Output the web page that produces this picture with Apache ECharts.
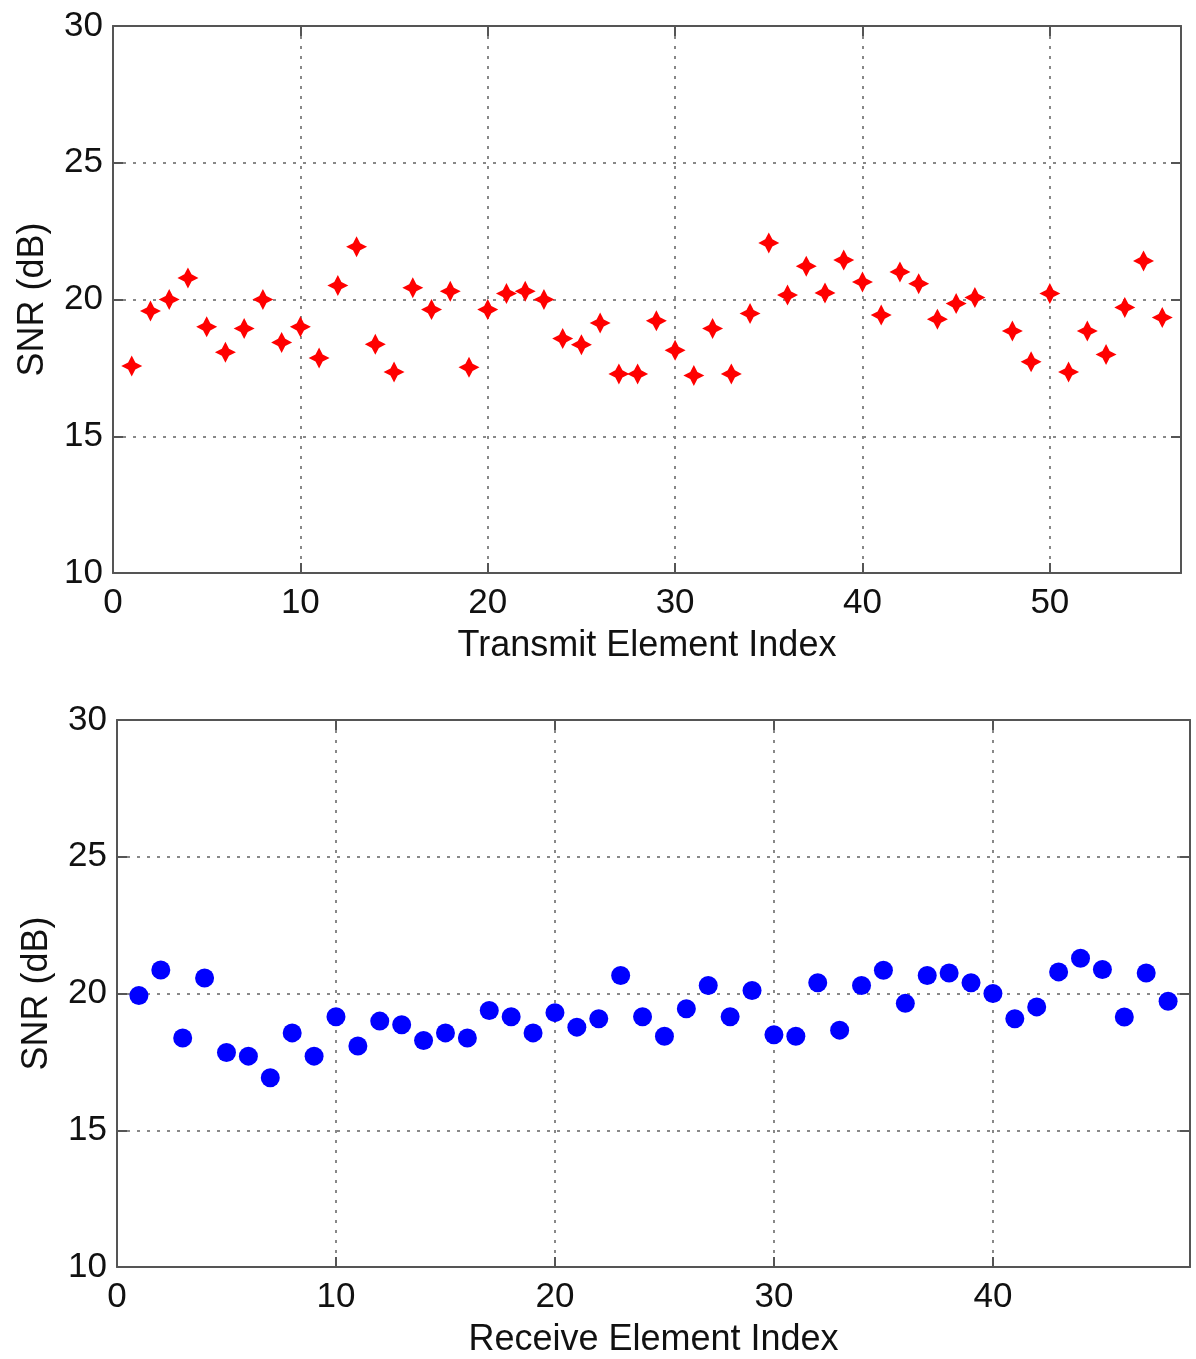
<!DOCTYPE html>
<html>
<head>
<meta charset="utf-8">
<script src="https://cdn.jsdelivr.net/npm/echarts@6/dist/echarts.min.js"></script>
<style>
html,body{margin:0;padding:0;background:#fff;}
#chart{width:1196px;height:1359px;}
</style>
</head>
<body>
<div id="chart"></div>
<script>
// ---- Data ----
const transmitIndex = [1,2,3,4,5,6,7,8,9,10,11,12,13,14,15,16,17,18,19,20,21,22,23,24,25,26,27,28,29,30,31,32,33,34,35,36,37,38,39,40,41,42,43,44,45,46,48,49,50,51,52,53,54,55,56];
const transmitSNR = [17.57,19.58,20.00,20.79,19.00,18.07,18.94,20.00,18.43,19.00,17.86,20.51,21.93,18.36,17.35,20.43,19.63,20.30,17.52,19.63,
  20.22,20.30,20.00,18.57,18.35,19.14,17.28,17.28,19.22,18.14,17.22,18.94,17.28,19.49,22.07,20.16,21.22,20.24,21.44,20.64,
  19.43,21.01,20.58,19.28,19.85,20.07,18.85,17.72,20.22,17.35,18.85,17.99,19.71,21.41,19.34];
const receiveIndex = [1,2,3,4,5,6,7,8,9,10,11,12,13,14,15,16,17,18,19,20,21,22,23,24,25,26,27,28,29,30,31,32,33,34,35,36,37,38,39,40,41,42,43,44,45,46,47,48];
const receiveSNR = [19.93,20.86,18.37,20.57,17.84,17.71,16.92,18.56,17.71,19.15,18.08,18.99,18.86,18.28,18.56,18.37,19.38,19.15,18.56,19.30,
  18.77,19.08,20.66,19.15,18.44,19.44,20.29,19.15,20.11,18.49,18.44,20.39,18.66,20.29,20.85,19.64,20.66,20.75,20.39,20.00,
  19.08,19.51,20.79,21.29,20.88,19.14,20.75,19.72];
const xTickStep = 10;
const yTicks = {min: 10, max: 30, step: 5};
const titles = {top: 'Transmit Element Index', bottom: 'Receive Element Index', y: 'SNR (dB)'};
const xMaxTop = 57, xMaxBottom = 49;

// ---- Styling ----
const FONT = '"Liberation Sans", Arial, Helvetica, sans-serif';
const AX = '#555555';
const txt = {color: '#111', fontFamily: FONT, fontSize: 35};

function xLabelFmt(v){ return (v % xTickStep === 0) ? String(v) : ''; }

function xAxes(gridIndex, max, name){
  return [
    {
      type: 'value', gridIndex, position: 'bottom', min: 0, max: max, interval: xTickStep,
      name: name, nameLocation: 'middle', nameGap: 55,
      nameTextStyle: {color: '#111', fontFamily: FONT, fontSize: 36},
      axisLine: {show: true, onZero: false, lineStyle: {color: AX, width: 2}},
      axisTick: {show: true, inside: true, length: 10, lineStyle: {color: AX, width: 2}},
      axisLabel: Object.assign({margin: 13, formatter: xLabelFmt, showMaxLabel: false}, txt),
      splitLine: {show: true, lineStyle: {color: '#888', width: 2, type: [3, 7]}}
    },
    {
      type: 'value', gridIndex, position: 'top', min: 0, max: max, interval: xTickStep,
      axisLine: {show: true, onZero: false, lineStyle: {color: AX, width: 2}},
      axisTick: {show: true, inside: true, length: 10, lineStyle: {color: AX, width: 2}},
      axisLabel: {show: false},
      splitLine: {show: false}
    }
  ];
}
function yAxes(gridIndex){
  return [
    {
      type: 'value', gridIndex, position: 'left', min: yTicks.min, max: yTicks.max, interval: yTicks.step,
      name: titles.y, nameLocation: 'middle', nameGap: 62,
      nameTextStyle: {color: '#111', fontFamily: FONT, fontSize: 36},
      axisLine: {show: true, onZero: false, lineStyle: {color: AX, width: 2}},
      axisTick: {show: true, inside: true, length: 10, lineStyle: {color: AX, width: 2}},
      axisLabel: Object.assign({margin: 10}, txt),
      splitLine: {show: true, lineStyle: {color: '#888', width: 2, type: [3, 7]}}
    },
    {
      type: 'value', gridIndex, position: 'right', min: yTicks.min, max: yTicks.max, interval: yTicks.step,
      axisLine: {show: true, onZero: false, lineStyle: {color: AX, width: 2}},
      axisTick: {show: true, inside: true, length: 10, lineStyle: {color: AX, width: 2}},
      axisLabel: {show: false},
      splitLine: {show: false}
    }
  ];
}

const chart = echarts.init(document.getElementById('chart'), null, {renderer: 'canvas'});
const starPath = 'path://M0,-10 L3.4,-3.4 L10,0 L3.4,3.4 L0,10 L-3.4,3.4 L-10,0 L-3.4,-3.4 Z';

chart.setOption({
  animation: false,
  backgroundColor: '#ffffff',
  grid: [
    {left: 113, top: 26, width: 1068, height: 547},
    {left: 117, top: 720, width: 1073, height: 548}
  ],
  xAxis: [].concat(xAxes(0, xMaxTop, titles.top), xAxes(1, xMaxBottom, titles.bottom)),
  yAxis: [].concat(yAxes(0), yAxes(1)),
  series: [
    {
      type: 'scatter', xAxisIndex: 0, yAxisIndex: 0,
      data: transmitIndex.map((x, i) => [x, transmitSNR[i]]),
      symbol: starPath, symbolSize: 21,
      itemStyle: {color: '#ff0000', opacity: 1}
    },
    {
      type: 'scatter', xAxisIndex: 2, yAxisIndex: 2,
      data: receiveIndex.map((x, i) => [x, receiveSNR[i]]),
      symbol: 'circle', symbolSize: 19,
      itemStyle: {color: '#0000ff', opacity: 1}
    }
  ]
});
</script>
</body>
</html>
